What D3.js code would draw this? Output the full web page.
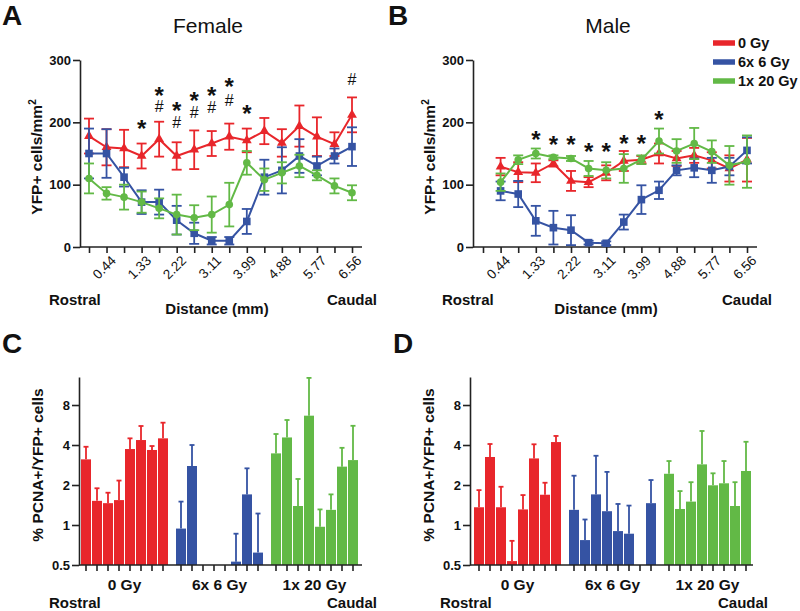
<!DOCTYPE html>
<html><head><meta charset="utf-8">
<script src="https://cdn.jsdelivr.net/npm/d3@7"></script>
<style>body{margin:0;background:#fff} svg{display:block} text{font-family:"Liberation Sans",Arial,sans-serif;fill:#111}</style>
</head><body><svg id="chart" width="800" height="611"></svg>
<script>
// ---------- Data ----------
const positions = d3.range(16);
const distanceLabels = ["", "0.44", "", "1.33", "", "2.22", "", "3.11", "", "3.99", "", "4.88", "", "5.77", "", "6.56"];
const seriesNames = ["0 Gy", "6x 6 Gy", "1x 20 Gy"];
const seriesColors = ["#e8262b", "#3553a3", "#62b946"];
const yTicksLine = [0, 100, 200, 300];

// Panel A (Female) YFP+ cells/mm2, mean and SEM
const femaleRed = [178,160,158,146,173,146,156,166,177,171,186,167,194,177,165,212];
const femaleRedErr = [28,29,30,20,28,22,31,20,21,19,21,22,33,31,19,28];
const femaleBlue = [150,150,112,72,72,43,22,10,10,41,112,123,146,130,146,161];
const femaleBlueErr = [40,39,15,19,20,23,17,6,6,20,28,37,27,15,12,31];
const femaleGreen = [110,86,80,72,62,52,47,52,68,135,108,119,130,115,98,87];
const femaleGreenErr = [24,10,20,17,16,32,20,29,35,19,18,17,18,8,12,12];
const femaleStarPos = [3,4,5,6,7,8,9];
const femaleStarY = [198,251,227,243,250,264,222];
const femaleHashPos = [4,5,6,7,8,15];
const femaleHashY = [227,201,217,225,236,269];

// Panel B (Male)
const maleRed = [null,129,120,119,134,106,104,119,138,140,150,142,147,139,126,140];
const maleRedErr = [null,14,16,15,5,16,8,12,16,6,16,12,12,13,21,35];
const maleBlue = [null,90,85,42,31,27,7,6,40,76,91,123,127,123,129,155];
const maleBlueErr = [null,15,21,24,27,24,3,3,12,23,14,8,15,20,14,21];
const maleGreen = [null,104,140,150,144,142,126,123,126,140,170,154,166,153,131,137];
const maleGreenErr = [null,14,7,8,3,4,12,13,23,7,20,19,25,18,31,42];
const maleStarPos = [3,4,5,6,7,8,9,10];
const maleStarY = [179,171,171,161,161,174,174,212];
const maleHashPos = [];
const maleHashY = [];

// Panels C/D: % PCNA+/YFP+ cells (bar value and top of error bar)
const barSlots = d3.range(8);
const yTicksBar = [0.5, 1, 2, 4, 8];
const femaleRedPct = [3.12,1.52,1.46,1.54,3.73,4.36,3.67,4.49];
const femaleRedPctTop = [3.88,1.89,1.75,2.16,4.49,5.56,3.93,5.89];
const femaleBluePct = [0.94,2.78,null,null,null,0.53,1.70,0.62];
const femaleBluePctTop = [1.50,4.0,null,null,null,0.86,2.67,1.22];
const femaleGreenPct = [3.46,4.56,1.39,6.65,0.97,1.30,2.75,3.08];
const femaleGreenPctTop = [4.84,6.17,2.22,12.8,1.31,1.70,3.81,5.58];

const maleRedPct = [1.36,3.25,1.36,0.535,1.31,3.17,1.69,4.21];
const maleRedPctTop = [1.83,4.07,1.94,0.76,1.68,4.05,2.08,4.68];
const maleBluePct = [1.30,0.77,1.70,1.27,0.90,0.86,null,1.46];
const maleBluePctTop = [2.35,1.10,3.32,2.51,1.44,1.40,null,2.18];
const maleGreenPct = [2.43,1.32,1.50,2.86,1.99,2.06,1.39,2.55];
const maleGreenPctTop = [3.03,1.80,2.10,5.10,2.45,3.03,2.10,4.23];

// ---------- Drawing ----------
const svg = d3.select("#chart");
const FONT = '"Liberation Sans",Arial,sans-serif';

function txt(g, x, y, s, opt = {}) {
  return g.append("text").attr("x", x).attr("y", y).text(s)
    .attr("font-size", opt.size || 15).attr("font-weight", opt.weight || "bold")
    .attr("text-anchor", opt.anchor || "start");
}

function linePanel(cfg) {
  const g = svg.append("g");
  const x = d3.scalePoint().domain(positions).range(cfg.xRange);
  const y = d3.scaleLinear().domain([0, 300]).range([247, 60]);

  // y axis
  const ya = g.append("g").attr("transform", `translate(${cfg.axisX},0)`)
    .call(d3.axisLeft(y).tickValues(yTicksLine).tickSize(7).tickSizeOuter(0).tickPadding(2));
  ya.select(".domain").attr("stroke-width", 1.6).attr("stroke", "#222");
  ya.selectAll(".tick line").attr("stroke-width", 1.6).attr("stroke", "#222");
  ya.selectAll("text").attr("font-size", 13).attr("font-weight", "bold").attr("font-family", FONT).attr("fill", "#111");

  // x axis
  g.append("line").attr("x1", cfg.axisX).attr("x2", cfg.axisEnd).attr("y1", 247).attr("y2", 247)
    .attr("stroke", "#222").attr("stroke-width", 1.6);
  const xa = g.append("g").attr("transform", "translate(0,247)")
    .call(d3.axisBottom(x).tickSize(6).tickSizeOuter(0).tickFormat(() => ""));
  xa.select(".domain").remove();
  xa.selectAll(".tick line").attr("stroke-width", 1.6).attr("stroke", "#222");
  positions.forEach(i => {
    if (!distanceLabels[i]) return;
    g.append("text").text(distanceLabels[i])
      .attr("transform", `translate(${x(i) + 7},${258}) rotate(-45)`)
      .attr("text-anchor", "end").attr("font-size", 13.5).attr("dy", "0.35em");
  });

  // series
  const series = [
    {v: cfg.red, e: cfg.redErr, c: seriesColors[0], m: "tri"},
    {v: cfg.blue, e: cfg.blueErr, c: seriesColors[1], m: "sq"},
    {v: cfg.green, e: cfg.greenErr, c: seriesColors[2], m: "circ"}
  ];
  series.forEach(s => {
    const pts = positions.map(i => ({i, v: s.v[i], e: s.e[i]})).filter(d => d.v != null);
    const sg = g.append("g");
    pts.forEach(d => {
      const cx = x(d.i);
      sg.append("line").attr("x1", cx).attr("x2", cx).attr("y1", y(d.v - d.e)).attr("y2", y(d.v + d.e))
        .attr("stroke", s.c).attr("stroke-width", 1.8);
      [d.v - d.e, d.v + d.e].forEach(yy => sg.append("line").attr("x1", cx - 5).attr("x2", cx + 5)
        .attr("y1", y(yy)).attr("y2", y(yy)).attr("stroke", s.c).attr("stroke-width", 1.8));
    });
    sg.append("path").datum(pts)
      .attr("d", d3.line().x(d => x(d.i)).y(d => y(d.v)))
      .attr("fill", "none").attr("stroke", s.c).attr("stroke-width", 2);
    pts.forEach(d => {
      const cx = x(d.i), cy = y(d.v);
      if (s.m === "sq") sg.append("rect").attr("x", cx - 3.8).attr("y", cy - 3.8).attr("width", 7.6).attr("height", 7.6).attr("fill", s.c);
      else if (s.m === "circ") sg.append("circle").attr("cx", cx).attr("cy", cy).attr("r", 3.8).attr("fill", s.c);
      else sg.append("path").attr("d", d3.symbol(d3.symbolTriangle, 42)()).attr("transform", `translate(${cx},${cy})`).attr("fill", s.c);
    });
  });

  // annotations: one text per position ("*" above "#" when both are present)
  const annPos = Array.from(new Set([...cfg.starPos, ...cfg.hashPos])).sort((a, b) => a - b);
  annPos.forEach(p => {
    const si = cfg.starPos.indexOf(p), hi = cfg.hashPos.indexOf(p);
    const t = g.append("text").attr("text-anchor", "middle");
    if (si >= 0) {
      t.append("tspan").text("*").attr("x", x(p)).attr("y", y(cfg.starY[si]) + 13)
        .attr("font-size", 24).attr("font-weight", "bold");
    }
    if (hi >= 0) {
      t.append("tspan").text("#").attr("x", x(p)).attr("y", y(cfg.hashY[hi]) + 6)
        .attr("font-size", 16);
    }
  });

  // labels
  g.append("text").text("YFP+ cells/mm").attr("font-size", 15.5).attr("font-weight", "bold")
    .attr("transform", `translate(${cfg.axisX - 38},157) rotate(-90)`).attr("text-anchor", "middle")
    .append("tspan").text("2").attr("font-size", 10).attr("dy", -6);
  txt(g, cfg.axisX - 31, 305, "Rostral");
  txt(g, cfg.axisEnd + 15, 305, "Caudal", {anchor: "end"});
  txt(g, cfg.distX, 314, "Distance (mm)", {anchor: "middle"});
  txt(g, cfg.letterX, 25, cfg.letter, {size: 28});
  txt(g, cfg.titleX, 33, cfg.title, {size: 21, weight: "normal", anchor: "middle"});
}

function barPanel(cfg) {
  const g = svg.append("g");
  const outer = d3.scaleBand().domain(seriesNames).range([cfg.x0, cfg.x0 + 278]).paddingInner(7 / 95).paddingOuter(0);
  const inner = d3.scaleBand().domain(barSlots).range([0, outer.bandwidth()]);
  const y = d3.scaleLog().base(2).domain([0.5, 13]).range([565, 377]);

  const ya = g.append("g").attr("transform", `translate(${cfg.axisX},0)`)
    .call(d3.axisLeft(y).tickValues(yTicksBar).tickFormat(d => String(d)).tickSize(7).tickSizeOuter(0).tickPadding(2));
  ya.select(".domain").attr("stroke-width", 1.6).attr("stroke", "#222");
  ya.selectAll(".tick line").attr("stroke-width", 1.6).attr("stroke", "#222");
  ya.selectAll("text").attr("font-size", 13).attr("font-weight", "bold").attr("font-family", FONT).attr("fill", "#111");

  const groups = [
    {v: cfg.red, t: cfg.redTop, c: seriesColors[0]},
    {v: cfg.blue, t: cfg.blueTop, c: seriesColors[1]},
    {v: cfg.green, t: cfg.greenTop, c: seriesColors[2]}
  ];
  groups.forEach((gr, gi) => {
    const gx = outer(seriesNames[gi]);
    barSlots.forEach(i => {
      const cx = gx + inner(i) + inner.bandwidth() / 2;
      g.append("line").attr("x1", cx).attr("x2", cx).attr("y1", 565).attr("y2", 571)
        .attr("stroke", "#222").attr("stroke-width", 1.6);
      const v = gr.v[i];
      if (v == null) return;
      const t = gr.t[i];
      g.append("line").attr("x1", cx).attr("x2", cx).attr("y1", y(v)).attr("y2", y(t))
        .attr("stroke", gr.c).attr("stroke-width", 1.8);
      g.append("line").attr("x1", cx - 2.5).attr("x2", cx + 2.5).attr("y1", y(t)).attr("y2", y(t))
        .attr("stroke", gr.c).attr("stroke-width", 1.8);
      g.append("rect").attr("x", gx + inner(i) + 0.5).attr("width", inner.bandwidth() - 1)
        .attr("y", y(v)).attr("height", 565 - y(v)).attr("fill", gr.c);
    });
    txt(g, gx + outer.bandwidth() / 2, 590, seriesNames[gi], {anchor: "middle", size: 15.5});
  });
  g.append("line").attr("x1", cfg.axisX).attr("x2", cfg.axisEnd).attr("y1", 565).attr("y2", 565)
    .attr("stroke", "#222").attr("stroke-width", 1.6);

  g.append("text").text("% PCNA+/YFP+ cells").attr("font-size", 15.5).attr("font-weight", "bold")
    .attr("transform", `translate(${cfg.axisX - 36},465) rotate(-90)`).attr("text-anchor", "middle");
  txt(g, cfg.axisX - 30, 608, "Rostral");
  txt(g, cfg.axisEnd + 15, 608, "Caudal", {anchor: "end"});
  txt(g, cfg.letterX, 353, cfg.letter, {size: 28});
}

linePanel({axisX: 80, axisEnd: 362, xRange: [89, 352], distX: 217, letter: "A", letterX: 2, title: "Female", titleX: 208,
  red: femaleRed, redErr: femaleRedErr, blue: femaleBlue, blueErr: femaleBlueErr, green: femaleGreen, greenErr: femaleGreenErr,
  starPos: femaleStarPos, starY: femaleStarY, hashPos: femaleHashPos, hashY: femaleHashY});
linePanel({axisX: 473, axisEnd: 757, xRange: [483, 747], distX: 606, letter: "B", letterX: 388, title: "Male", titleX: 608,
  red: maleRed, redErr: maleRedErr, blue: maleBlue, blueErr: maleBlueErr, green: maleGreen, greenErr: maleGreenErr,
  starPos: maleStarPos, starY: maleStarY, hashPos: maleHashPos, hashY: maleHashY});

barPanel({axisX: 79, axisEnd: 362, x0: 80.5, letter: "C", letterX: 2,
  red: femaleRedPct, redTop: femaleRedPctTop, blue: femaleBluePct, blueTop: femaleBluePctTop, green: femaleGreenPct, greenTop: femaleGreenPctTop});
barPanel({axisX: 470, axisEnd: 753, x0: 473.5, letter: "D", letterX: 393,
  red: maleRedPct, redTop: maleRedPctTop, blue: maleBluePct, blueTop: maleBluePctTop, green: maleGreenPct, greenTop: maleGreenPctTop});

// legend
const leg = svg.append("g");
seriesNames.forEach((n, i) => {
  const yy = 43 + i * 19;
  leg.append("line").attr("x1", 713).attr("x2", 735).attr("y1", yy).attr("y2", yy)
    .attr("stroke", seriesColors[i]).attr("stroke-width", 5.5);
  leg.append("text").text(n).attr("x", 738).attr("y", yy + 5).attr("font-size", 14.5).attr("font-weight", "bold");
});
</script></body></html>
